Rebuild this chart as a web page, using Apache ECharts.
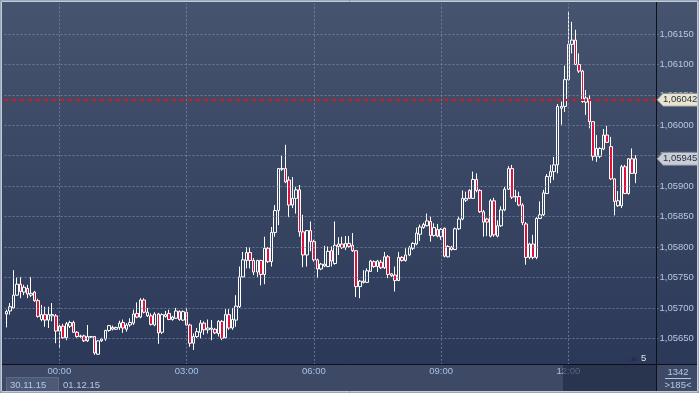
<!DOCTYPE html>
<html><head><meta charset="utf-8">
<script src="https://cdn.jsdelivr.net/npm/echarts@6/dist/echarts.min.js"></script>
<style>html,body{margin:0;padding:0;background:#2e3a58;}#c{width:699px;height:393px;}</style>
</head><body><div id="c"></div>
<script>
// ---- data (EURUSD 5-minute candles, 30.11.15 22:45 onward) ----
const startMinutes = 22 * 60 + 45;
const slotCount = 185;
const open = [
1.0569,1.05695,1.057,1.05721,1.05739,1.05726,1.05732,1.05721,1.05726,1.05712,
1.05681,1.05689,1.0568,1.05687,1.05687,1.05662,1.0567,1.05651,1.0567,1.05676,
1.0566,1.05653,1.05654,1.05646,1.05652,1.05653,1.05624,1.05646,1.05649,1.05663,
1.05668,1.05665,1.05668,1.05676,1.05665,1.05672,1.05675,1.05691,1.05685,1.05713,
1.05687,1.05687,1.05672,1.0569,1.0566,1.05686,1.05691,1.05681,1.05683,1.05694,
1.0568,1.05693,1.05672,1.05642,1.05653,1.0566,1.05675,1.05664,1.05665,1.05665,
1.05658,1.05678,1.05651,1.05689,1.05667,1.0568,1.05702,1.05751,1.05778,1.05791,
1.05778,1.05759,1.05778,1.05755,1.05798,1.05776,1.05824,1.0586,1.05928,1.05929,
1.0591,1.05869,1.0588,1.05894,1.05825,1.05787,1.05827,1.05809,1.05779,1.05764,
1.05769,1.05768,1.05794,1.05773,1.05801,1.05805,1.05799,1.05806,1.05803,1.05794,
1.05735,1.05742,1.05742,1.0576,1.05776,1.05768,1.05775,1.05766,1.05784,1.05756,
1.05754,1.05745,1.05783,1.05778,1.05787,1.05798,1.05805,1.05821,1.05832,1.05835,
1.05842,1.05819,1.05829,1.05817,1.05831,1.05784,1.058,1.05796,1.0583,1.05846,
1.05877,1.05893,1.0588,1.05911,1.05893,1.05858,1.05846,1.05818,1.05876,1.05818,
1.05835,1.05861,1.05895,1.05929,1.05882,1.05883,1.05869,1.05838,1.05783,1.05805,
1.05783,1.05847,1.05853,1.05888,1.05916,1.05924,1.05935,1.06028,1.06031,1.06075,
1.06133,1.0614,1.061,1.06089,1.06038,1.06043,1.06006,1.05949,1.05949,1.05961,
1.05984,1.05965,1.05912,1.05868,1.05868,1.05932,1.05888,1.05945,1.05921];
const high = [
1.05697,1.05708,1.05762,1.0575,1.05751,1.05738,1.05738,1.05751,1.05728,1.05715,
1.05705,1.05702,1.05702,1.05708,1.0569,1.05672,1.05674,1.05677,1.05679,1.05679,
1.05662,1.05656,1.05656,1.05672,1.05654,1.05654,1.05647,1.05651,1.05664,1.05672,
1.05671,1.05669,1.05679,1.05681,1.05675,1.05683,1.05697,1.05709,1.05716,1.05716,
1.057,1.05691,1.05693,1.05692,1.05691,1.05695,1.05697,1.05687,1.057,1.05696,
1.05696,1.057,1.05674,1.05658,1.05667,1.0568,1.05678,1.05681,1.0568,1.05667,
1.0568,1.0568,1.05698,1.05698,1.057,1.05721,1.05768,1.05792,1.058,1.058,
1.05782,1.05779,1.05779,1.05817,1.058,1.05833,1.05869,1.0593,1.0595,1.05968,
1.05916,1.05915,1.05899,1.05902,1.05853,1.05828,1.05842,1.05812,1.05781,1.05774,
1.05802,1.05801,1.05801,1.05842,1.05816,1.05817,1.05818,1.05818,1.05823,1.05795,
1.05746,1.05762,1.05765,1.05779,1.05778,1.05779,1.05779,1.05792,1.05787,1.05757,
1.05768,1.05792,1.05785,1.05798,1.05802,1.05808,1.05832,1.05837,1.0584,1.05855,
1.0585,1.05839,1.05838,1.05831,1.05832,1.05803,1.05802,1.05832,1.0585,1.05893,
1.05891,1.05895,1.05924,1.05921,1.05895,1.05861,1.05848,1.05879,1.05881,1.05844,
1.05867,1.05899,1.05933,1.05935,1.05894,1.05891,1.05872,1.05841,1.05807,1.0582,
1.05849,1.05875,1.05894,1.0592,1.05935,1.05948,1.06035,1.06039,1.06098,1.06187,
1.0617,1.06157,1.06118,1.06091,1.06058,1.0605,1.06007,1.05984,1.05964,1.05994,
1.05999,1.05981,1.05913,1.05892,1.05935,1.05935,1.05946,1.05962,1.05951];
const low = [
1.05668,1.05689,1.05698,1.0572,1.05716,1.05721,1.05716,1.05718,1.0571,1.05684,
1.05678,1.05669,1.05667,1.05678,1.05642,1.05634,1.05649,1.05647,1.05667,1.05659,
1.05651,1.05651,1.05644,1.05644,1.05651,1.05623,1.05623,1.05644,1.05646,1.05661,
1.05663,1.05664,1.05664,1.05659,1.05661,1.05669,1.05672,1.05683,1.05683,1.05691,
1.05685,1.05671,1.0567,1.05641,1.05657,1.05684,1.0568,1.05679,1.05682,1.05679,
1.05679,1.05671,1.05636,1.05631,1.05651,1.0565,1.05656,1.05658,1.05647,1.05657,
1.05653,1.05647,1.05649,1.05664,1.05664,1.05669,1.057,1.0575,1.05765,1.05765,
1.05754,1.05751,1.05737,1.05739,1.05774,1.05768,1.05817,1.05836,1.05925,1.05905,
1.05849,1.05864,1.05855,1.05817,1.05767,1.05768,1.05793,1.05776,1.05749,1.05762,
1.05767,1.05767,1.05768,1.05771,1.05787,1.05797,1.05795,1.05799,1.05792,1.05718,
1.05716,1.0574,1.05741,1.05759,1.05766,1.05759,1.05764,1.05764,1.05749,1.05751,
1.05727,1.05744,1.05776,1.05776,1.05785,1.05795,1.05803,1.0581,1.0583,1.05834,
1.05809,1.05817,1.05816,1.05812,1.05783,1.05783,1.05794,1.05795,1.05828,1.05844,
1.05874,1.05879,1.05879,1.0589,1.05856,1.05817,1.05818,1.05816,1.05817,1.05816,
1.05833,1.05859,1.05894,1.05879,1.05874,1.05867,1.05836,1.05771,1.0578,1.0578,
1.0578,1.05846,1.05851,1.05887,1.05905,1.0591,1.05921,1.06001,1.06022,1.06073,
1.06118,1.06099,1.06086,1.06037,1.06017,1.05995,1.05942,1.0594,1.05946,1.05959,
1.05971,1.0591,1.05852,1.05866,1.05864,1.05887,1.05886,1.0592,1.05905];
const close = [
1.05694,1.05702,1.05721,1.05739,1.05727,1.05734,1.05723,1.05724,1.05712,1.05686,
1.05689,1.0568,1.05689,1.05689,1.05662,1.0567,1.05651,1.05674,1.05676,1.0566,
1.05653,1.05654,1.05646,1.05653,1.05653,1.05626,1.05646,1.05649,1.05663,1.05671,
1.05665,1.05668,1.05675,1.05667,1.05672,1.05676,1.0569,1.05685,1.05713,1.05693,
1.05693,1.05673,1.0569,1.05659,1.05689,1.05689,1.05681,1.05685,1.05695,1.05681,
1.05694,1.05672,1.05642,1.05653,1.05661,1.05675,1.05664,1.05667,1.05667,1.05659,
1.05678,1.0565,1.05689,1.05667,1.05681,1.05703,1.05751,1.05779,1.05791,1.05778,
1.05759,1.05778,1.05755,1.05798,1.05776,1.05824,1.0586,1.05929,1.05929,1.05907,
1.05869,1.0588,1.05894,1.05825,1.05787,1.05827,1.05809,1.05779,1.05764,1.05772,
1.05772,1.05793,1.05777,1.05803,1.05805,1.05799,1.05806,1.05801,1.05794,1.05735,
1.05744,1.05744,1.05761,1.05777,1.05768,1.05777,1.05766,1.05784,1.05755,1.05753,
1.05745,1.05783,1.05778,1.05787,1.05799,1.05806,1.05823,1.05833,1.05837,1.05843,
1.05819,1.05832,1.05818,1.05829,1.05785,1.05801,1.05796,1.0583,1.05846,1.0588,
1.0588,1.0588,1.05911,1.05893,1.05858,1.05841,1.05841,1.05876,1.0582,1.05835,
1.05861,1.05895,1.05929,1.05882,1.05883,1.05869,1.0584,1.05783,1.05805,1.05783,
1.05847,1.05853,1.05889,1.05916,1.05924,1.05935,1.06031,1.06031,1.06075,1.06133,
1.0614,1.061,1.06089,1.06039,1.06045,1.06006,1.05949,1.05962,1.05962,1.05984,
1.05972,1.05912,1.05875,1.05876,1.05932,1.05888,1.05945,1.05921,1.05945];
const timeTicks = ['00:00', '03:00', '06:00', '09:00', '12:00'];
const priceTicks = [1.0565, 1.057, 1.0575, 1.058, 1.0585, 1.059, 1.0595, 1.06, 1.0605, 1.061, 1.0615];
const bidPrice = 1.06042;
const lastPrice = 1.05945;
const dateLabels = ['30.11.15', '01.12.15'];
const barsInfo = ['1342', '>185<'];
const periodLabel = '5';

// ---- build ----
const categories = [];
for (let i = 0; i < slotCount; i++) {
  const t = (startMinutes + 5 * i) % 1440;
  categories.push(String(Math.floor(t / 60)).padStart(2, '0') + ':' + String(t % 60).padStart(2, '0'));
}
const candleData = open.map((o, i) => [o, close[i], low[i], high[i]]);
const fmt = v => v.toFixed(5).replace('.', ',');
const FONT = 'Liberation Sans, Arial, sans-serif';

const chart = echarts.init(document.getElementById('c'), null, {renderer: 'canvas', width: 699, height: 393});
chart.setOption({
  animation: false,
  backgroundColor: {type: 'linear', x: 0, y: 0, x2: 0, y2: 1,
    colorStops: [{offset: 0, color: '#46546f'}, {offset: 1, color: '#2a3656'}]},
  grid: {left: 4.5, right: 40.5, top: 3.57, bottom: 24.2},
  xAxis: {
    type: 'category', data: categories, boundaryGap: true, z: 20,
    axisLine: {show: false}, axisTick: {show: false}, splitLine: {show: false},
    axisLabel: {interval: (idx, v) => timeTicks.includes(v), margin: -2,
      color: '#a6c2ea', fontSize: 9.5, fontFamily: FONT}
  },
  yAxis: {
    type: 'value', position: 'right', min: 1.056, max: 1.062, interval: 0.0005, z: 20,
    axisLine: {show: false}, axisTick: {show: false}, splitLine: {show: false},
    axisLabel: {showMinLabel: false, showMaxLabel: false, formatter: fmt, margin: 1,
      color: '#b7c8e2', fontSize: 9.5, fontFamily: FONT}
  },
  series: [
    {
      type: 'line', data: [], z: 1, silent: true,
      markLine: {
        silent: true, symbol: ['none', 'none'], label: {show: false}, animation: false, precision: 6,
        lineStyle: {type: [2, 2], color: 'rgba(125,142,175,0.7)', width: 1},
        data: priceTicks.map(v => ({yAxis: v})).concat(timeTicks.map(t => ({xAxis: t})))
      }
    },
    {
      type: 'line', data: [], z: 2, silent: true,
      markLine: {
        silent: true, symbol: ['none', 'none'], label: {show: false}, animation: false, precision: 6,
        lineStyle: {type: [4, 4], color: '#e8101c', width: 2},
        data: [{yAxis: bidPrice}]
      }
    },
    {
      type: 'candlestick', data: candleData, z: 3, barWidth: 3,
      itemStyle: {
        color: 'rgba(0,0,0,0)', color0: '#e0103c',
        borderColor: '#ffffff', borderColor0: '#ffffff', borderColorDoji: '#ffffff', borderWidth: 1
      }
    }
  ]
});

const yBid = chart.convertToPixel({yAxisIndex: 0}, bidPrice);
const yLast = chart.convertToPixel({yAxisIndex: 0}, lastPrice);

function tag(y, text, fill, textColor) {
  return [
    {type: 'polygon', z: 30, shape: {points: [[657, y], [663, y - 6.5], [698, y - 6.5], [698, y + 6.5], [663, y + 6.5]]},
      style: {fill: fill, stroke: '#7c8494', lineWidth: 1}},
    {type: 'text', z: 31, style: {text: text, x: 663, y: y, fill: textColor, font: '9.5px ' + FONT,
      align: 'left', verticalAlign: 'middle', textAlign: 'left', textVerticalAlign: 'middle'}}
  ];
}

chart.setOption({
  graphic: [
    {type: 'rect', z: 10, shape: {x: 0, y: 364, width: 699, height: 29}, style: {fill: '#3d4965'}},
    {type: 'line', z: 11, shape: {x1: 0, y1: 364.5, x2: 699, y2: 364.5}, style: {stroke: '#0c1018', lineWidth: 1}},
    {type: 'line', z: 11, shape: {x1: 656.5, y1: 0, x2: 656.5, y2: 393}, style: {stroke: '#0c1018', lineWidth: 1}},
    {type: 'rect', z: 12, shape: {x: 6.5, y: 377.5, width: 52, height: 14}, style: {fill: '#4d5a77', stroke: '#5d6a86', lineWidth: 1}},
    {type: 'text', z: 13, style: {text: dateLabels[0], x: 10, y: 385, fill: '#b4c8e6', font: '9.5px ' + FONT, verticalAlign: 'middle', textVerticalAlign: 'middle'}},
    {type: 'text', z: 13, style: {text: dateLabels[1], x: 63, y: 385, fill: '#b4c8e6', font: '9.5px ' + FONT, verticalAlign: 'middle', textVerticalAlign: 'middle'}},
    {type: 'rect', z: 25, shape: {x: 563, y: 365, width: 93, height: 27}, style: {fill: 'rgba(28,38,64,0.6)'}},
    {type: 'text', z: 13, style: {text: barsInfo[0], x: 678, y: 372, fill: '#b4c8e6', font: '9.5px ' + FONT, align: 'center', textAlign: 'center', verticalAlign: 'middle', textVerticalAlign: 'middle'}},
    {type: 'line', z: 13, shape: {x1: 665, y1: 378.5, x2: 691, y2: 378.5}, style: {stroke: '#b4c8e6', lineWidth: 1}},
    {type: 'text', z: 13, style: {text: barsInfo[1], x: 678, y: 385, fill: '#b4c8e6', font: '9.5px ' + FONT, align: 'center', textAlign: 'center', verticalAlign: 'middle', textVerticalAlign: 'middle'}},
    {type: 'polygon', z: 13, shape: {points: [[630, 361], [634, 356], [638, 361]]}, style: {fill: '#25304a'}},
    {type: 'text', z: 13, style: {text: periodLabel, x: 641, y: 358, fill: '#dfe6f2', font: '9.5px ' + FONT, verticalAlign: 'middle', textVerticalAlign: 'middle'}},
    ...tag(yBid, fmt(bidPrice), '#e9e5cf', '#2a3040'),
    ...tag(yLast, fmt(lastPrice), '#c9cdd6', '#2a3040'),
    {type: 'rect', z: 40, shape: {x: 0.5, y: 0.5, width: 698, height: 392}, style: {fill: 'none', stroke: '#9aa7bd', lineWidth: 1}},
    {type: 'rect', z: 40, shape: {x: 1.5, y: 1.5, width: 696, height: 390}, style: {fill: 'none', stroke: '#c3cbd8', lineWidth: 1}}
  ]
});
</script>
</body></html>
